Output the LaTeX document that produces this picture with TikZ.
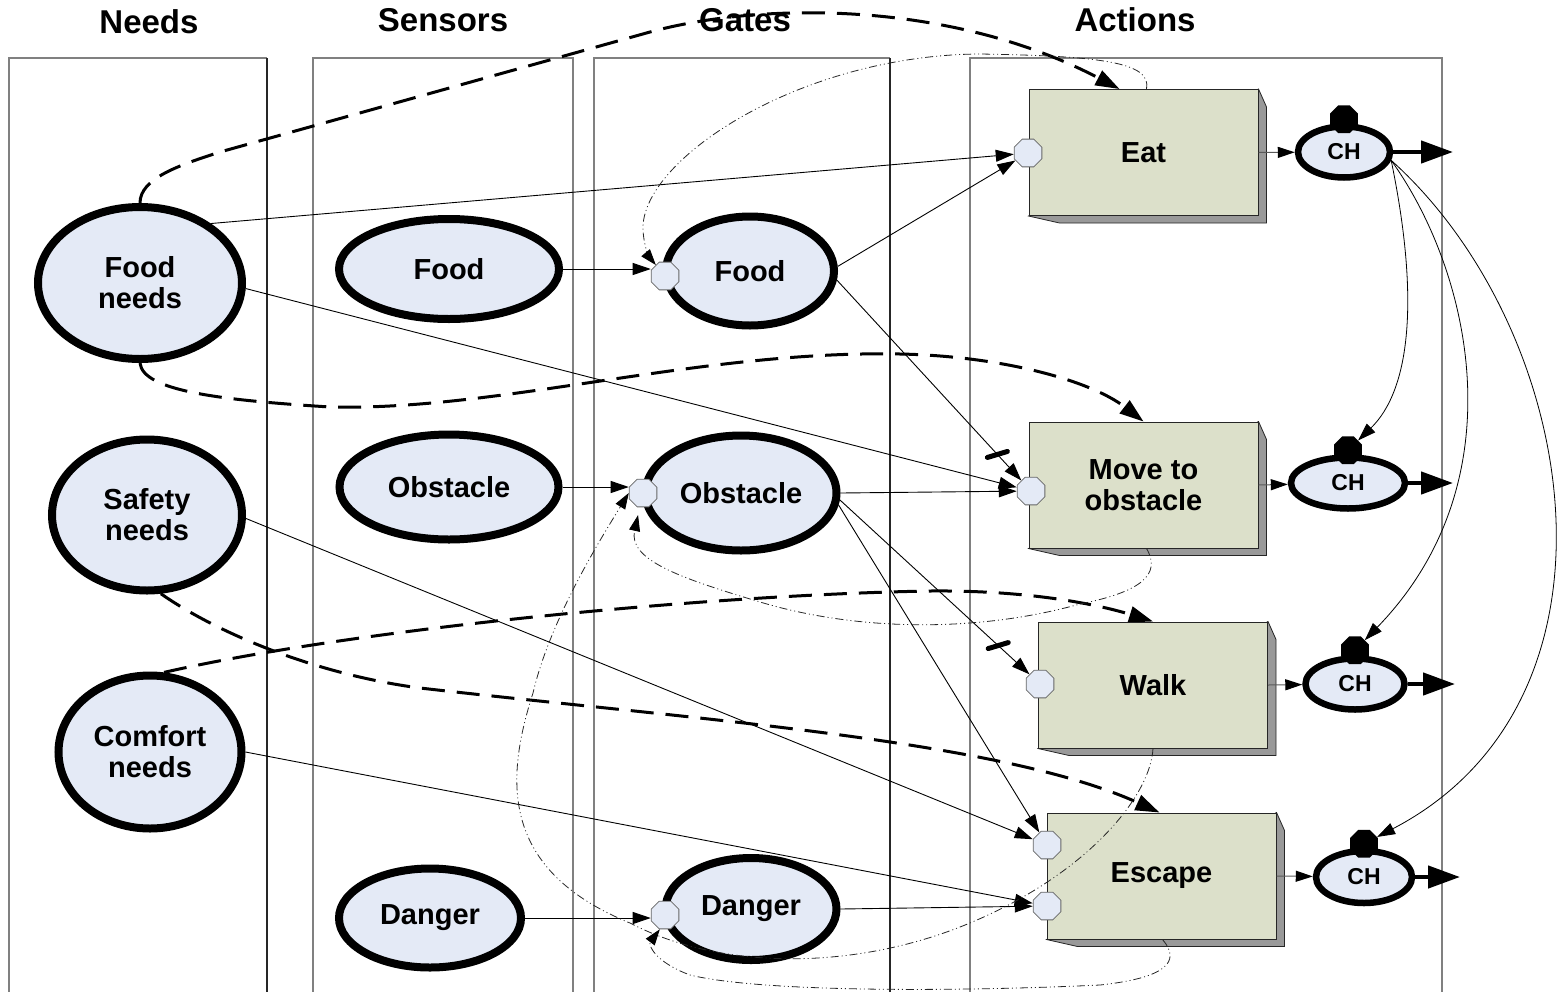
\documentclass[tikz,border=0pt]{standalone}
\usepackage{fontspec}
\setmainfont{Liberation Sans}
\usetikzlibrary{shapes.geometric,arrows.meta,calc}
\pgfdeclarelayer{bg}
\pgfdeclarelayer{mid}
\pgfsetlayers{bg,mid,main}
\definecolor{ellfill}{RGB}{228,234,246}
\definecolor{boxfill}{RGB}{220,224,202}
\definecolor{shadecol}{RGB}{153,153,153}
\definecolor{lanegray}{RGB}{128,128,128}
\tikzset{
  header/.style={font=\fontsize{33}{35}\selectfont\bfseries},
  need/.style={ellipse, draw=black, line width=8pt, fill=ellfill, inner sep=0pt, align=center,
    font=\fontsize{29}{31}\selectfont\bfseries},
  chnode/.style={ellipse, draw=black, line width=6.5pt, fill=ellfill, inner sep=0pt,
    font=\fontsize{23}{25}\selectfont\bfseries},
  port/.style={regular polygon, regular polygon sides=8, draw=black!60, line width=0.8pt,
    fill=ellfill, minimum size=30pt, inner sep=0pt},
  knob/.style={regular polygon, regular polygon sides=8, fill=black, minimum size=30pt, inner sep=0pt},
  actbox/.style={rectangle, draw=black!85, line width=1pt, fill=boxfill, minimum width=229pt,
    minimum height=126pt, inner sep=0pt, align=center, font=\fontsize{29}{31}\selectfont\bfseries},
  boxshade/.style={fill=shadecol, draw=black!85, line width=0.8pt},
  lane/.style={line width=1.3pt, lanegray},
  laneb/.style={line width=1.3pt, black!85},
  link/.style={line width=0.9pt, -{Triangle[length=18pt,width=12pt]}},
  boxlink/.style={line width=1pt, black!65, -{Triangle[length=17pt,width=11pt,fill=black,color=black]}},
  outlink/.style={line width=4.5pt, -{Triangle[length=32pt,width=22pt]}},
  dlink/.style={line width=3pt, dash pattern=on 23pt off 12pt, -{Triangle[length=24pt,width=16pt]}},
  ddlink/.style={line width=0.8pt, black!85, dash pattern=on 8pt off 3pt on 1pt off 3pt on 1pt off 3pt,
    -{Triangle[length=16pt,width=11pt,color=black]}},
  tickmark/.style={line width=5pt, line cap=round},
}
\begin{document}
\begin{tikzpicture}[x=1pt,y=-1pt]
\useasboundingbox (0,0) rectangle (1560,991);

% headers
\node[header] (hneeds) at (149,22) {Needs};
\node[header] (hsens) at (443,20) {Sensors};
\node[header] (hgates) at (745,20) {Gates};
\node[header] (hact) at (1135,20) {Actions};

% needs
\node[need, minimum width=204pt, minimum height=152pt] (fneeds) at (140,283) {Food\\needs};
\node[need, minimum width=190pt, minimum height=151pt] (safety) at (147,515) {Safety\\needs};
\node[need, minimum width=183pt, minimum height=153pt] (comfort) at (150,752) {Comfort\\needs};
% sensors
\node[need, minimum width=220pt, minimum height=100pt] (sfood) at (449,269) {Food};
\node[need, minimum width=219pt, minimum height=105pt] (sobst) at (449,487) {Obstacle};
\node[need, minimum width=182pt, minimum height=99pt] (sdanger) at (430,918) {Danger};
% gates
\node[need, minimum width=168pt, minimum height=109pt] (gfood) at (750,271) {Food};
\node[need, minimum width=191pt, minimum height=115pt] (gobst) at (741,493) {Obstacle};
\node[need, minimum width=171pt, minimum height=102pt] (gdanger) at (751,909) {Danger};

% action boxes
\node[actbox] (eat) at (1143.5,152.5) {Eat};
\node[actbox] (move) at (1143.5,485) {Move to\\obstacle};
\node[actbox] (walk) at (1153,685) {Walk};
\node[actbox] (escape) at (1161.5,876) {Escape};

% ports
\node[port] (eatp) at (1028,153) {};
\node[port] (movep) at (1031,491) {};
\node[port] (walkp) at (1040,684) {};
\node[port] (escp1) at (1047,845) {};
\node[port] (escp2) at (1047,906) {};
\node[port] (gfp) at (665,276) {};
\node[port] (gop) at (643,493) {};
\node[port] (gdp) at (665,915) {};

% CH nodes
\node[chnode, minimum width=92pt, minimum height=51pt] (ch1) at (1344,152) {CH};
\node[chnode, minimum width=114pt, minimum height=51pt] (ch2) at (1348,483) {CH};
\node[chnode, minimum width=99pt, minimum height=51pt] (ch3) at (1355,684) {CH};
\node[chnode, minimum width=96pt, minimum height=52pt] (ch4) at (1364,877) {CH};
\node[knob] (k1) at ([yshift=4pt]ch1.north) {};
\node[knob] (k2) at ([yshift=4pt]ch2.north) {};
\node[knob] (k3) at ([yshift=5pt]ch3.north) {};
\node[knob] (k4) at ([yshift=4pt]ch4.north) {};

\coordinate (o1) at (1453,152);
\coordinate (o2) at (1453,483);
\coordinate (o3) at (1455,684);
\coordinate (o4) at (1460,877);

% box shadows
\begin{pgfonlayer}{mid}
\foreach \b in {eat,move,walk,escape}{
  \filldraw[boxshade] (\b.north east) -- ++(8,18) -- ($(\b.south east)+(8,7)$)
    -- ($(\b.south west)+(31,7)$) -- (\b.south west) -- cycle;
}
\end{pgfonlayer}

% box -> CH and CH outputs
\draw[boxlink] (eat.east) -- (ch1);
\draw[boxlink] (move.east) -- (ch2);
\draw[boxlink] (walk.east) -- (ch3);
\draw[boxlink] (escape.east) -- (ch4);
\draw[outlink] (ch1.east) -- (o1);
\draw[outlink] (ch2.east) -- (o2);
\draw[outlink] (ch3.east) -- (o3);
\draw[outlink] (ch4.east) -- (o4);

% dash-dot (drawn over the boxes)
\draw[ddlink] ($(eat.north)+(3,0)$) .. controls (1152,62) and (1100,56) .. (980,54)
  .. controls (800,55) and (640,160) .. (643,230)
  .. controls (644,248) and (650,258) .. (gfp);
\draw[ddlink, shorten >=8pt] ($(move.south)+(3,0)$) .. controls (1162,575) and (1140,592) .. (1080,604)
  .. controls (980,632) and (860,632) .. (760,602)
  .. controls (680,578) and (628,560) .. (gop);
\draw[ddlink] (walk.south) .. controls (1150,800) and (1080,880) .. (960,927)
  .. controls (850,970) and (720,970) .. (630,923)
  .. controls (500,870) and (505,780) .. (533,693)
  .. controls (550,620) and (600,540) .. (gop.west);
\draw[ddlink] ($(escape.south)+(1,0)$) .. controls (1182,962) and (1165,978) .. (1100,985)
  .. controls (950,992) and (760,992) .. (690,975)
  .. controls (655,962) and (648,945) .. (gdp.250);

\begin{pgfonlayer}{bg}
% lanes
\draw[lane] (9,1000) -- (9,58) -- (267,58);
\draw[laneb] (267,58) -- (267,1000);
\draw[lane] (313,1000) -- (313,58) -- (573,58) -- (573,1000);
\draw[lane] (594,1000) -- (594,58) -- (890,58);
\draw[laneb] (890,58) -- (890,1000);
\draw[lane] (970,1000) -- (970,58) -- (1442,58) -- (1442,1000);

% solid links
\draw[link] (fneeds.40) -- (eatp);
\draw[link] (fneeds.-3) -- (movep);
\draw[link] (sfood.east) -- (sfood.east -| gfp.west);
\draw[link] (sobst.east) -- (sobst.east -| gop.west);
\draw[link] (sdanger.east) -- (sdanger.east -| gdp.west);
\draw[link] (gfood.3) -- (eatp);
\draw[link] (gfood.-6) -- coordinate[pos=0.87] (tk1) (movep);
\draw[link] (gobst.east) -- (movep);
\draw[link] (gobst.-4) -- coordinate[pos=0.835] (tk2) (walkp);
\draw[link] (gobst.-7) -- (escp1);
\draw[link] (safety.-2) -- (escp1);
\draw[link] (comfort.east) -- (escp2);
\draw[link] (gdanger.east) -- (escp2);
\draw[tickmark] ($(tk1)+(-10,3)$) -- ($(tk1)+(10,-3)$);
\draw[tickmark] ($(tk2)+(-10,3)$) -- ($(tk2)+(10,-3)$);

% CH to CH
\draw[link, line width=0.8pt] (ch1.-10) .. controls (1420,300) and (1410,390) .. (k2);
\draw[link, line width=0.8pt] (ch1.-10) .. controls (1470,270) and (1520,480) .. (k3);
\draw[link, line width=0.8pt] (ch1.-10) .. controls (1580,330) and (1640,700) .. (k4);

% dashed
\draw[dlink] (fneeds.north) .. controls +(0,-25) and (180,165) .. (220,152) -- (650,32)
  .. controls (760,2) and (950,0) .. ($(eat.north)+(-24,0)$);
\draw[dlink] (fneeds.south) .. controls +(3,28) and (220,400) .. (330,407)
  .. controls (500,411) and (700,350) .. (900,354)
  .. controls (1000,356) and (1090,380) .. (move.north);
\draw[dlink] (safety.-80) .. controls (220,635) and (320,675) .. (420,688)
  .. controls (700,720) and (1000,740) .. ($(escape.north)+(-2,0)$);
\draw[dlink] (comfort.80) .. controls (350,630) and (700,595) .. (930,591)
  .. controls (1030,590) and (1100,605) .. (walk.north);
\end{pgfonlayer}
\end{tikzpicture}
\end{document}
